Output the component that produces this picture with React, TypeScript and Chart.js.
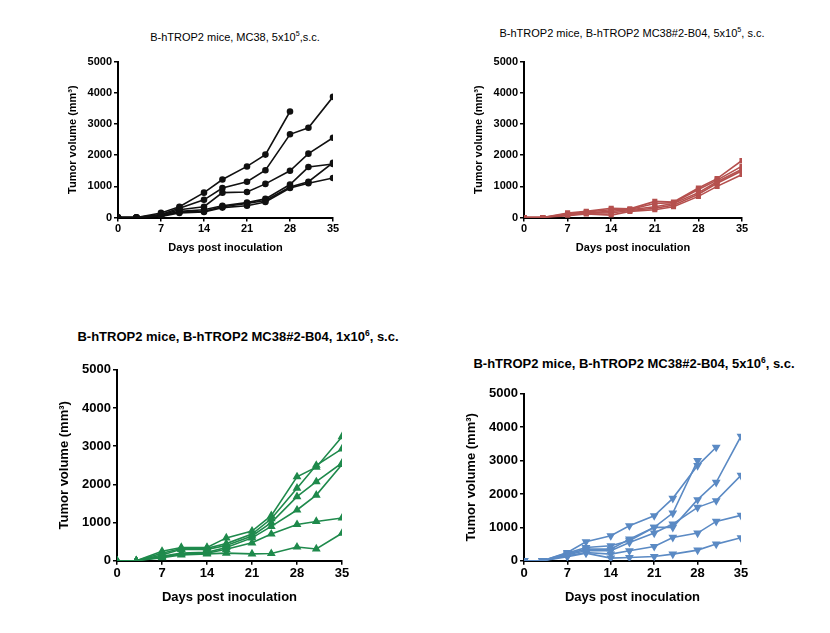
import React, { useEffect, useRef } from "react";
import { Chart, registerables } from "chart.js";
Chart.register(...registerables);

const days = [0, 3, 7, 10, 14, 17, 21, 24, 28, 31, 35];
const yTicks = [0, 1000, 2000, 3000, 4000, 5000];

const mc38_5e5: (number | null)[][] = [
  [0, 0, 150, 350, 800, 1220, 1640, 2020, 3400, null, null],
  [0, 0, 100, 300, 570, 950, 1150, 1520, 2670, 2880, 3870],
  [0, 0, 80, 250, 350, 800, 820, 1080, 1500, 2050, 2560],
  [0, 0, 60, 200, 250, 380, 480, 600, 1060, 1620, 1720],
  [0, 0, 50, 180, 200, 350, 450, 550, 980, 1150, 1760],
  [0, 0, 40, 150, 180, 320, 380, 500, 950, 1100, 1270],
];
const b04_5e5: (number | null)[][] = [
  [0, 0, 150, 200, 300, 280, 520, 500, 950, 1250, 1830],
  [0, 0, 120, 180, 250, 260, 450, 480, 900, 1200, 1650],
  [0, 0, 100, 150, 200, 250, 350, 450, 800, 1150, 1550],
  [0, 0, 80, 140, 150, 230, 300, 400, 750, 1100, 1500],
  [0, 0, 60, 120, 80, 200, 250, 350, 680, 1000, 1380],
];
const b04_1e6: (number | null)[][] = [
  [0, 0, 250, 350, 350, 600, 780, 1180, 2200, 2450, 3250],
  [0, 0, 200, 320, 330, 450, 700, 1100, 1900, 2500, 2930],
  [0, 0, 150, 300, 300, 400, 650, 1000, 1680, 2070, 2560],
  [0, 0, 120, 200, 220, 350, 600, 900, 1330, 1720, 2520],
  [0, 0, 100, 180, 200, 300, 470, 700, 950, 1030, 1120],
  [0, 0, 80, 150, 180, 200, 180, 190, 360, 310, 720],
];
const b04_5e6: (number | null)[][] = [
  [0, 0, 250, 570, 750, 1050, 1350, 1870, 2850, 3400, null],
  [0, 0, 230, 400, 450, 600, 1000, 1430, 3000, null, null],
  [0, 0, 200, 350, 350, 650, 1000, 1000, 1830, 2350, 3730],
  [0, 0, 180, 300, 300, 550, 830, 1100, 1600, 1800, 2560],
  [0, 0, 150, 250, 200, 300, 430, 700, 830, 1180, 1360],
  [0, 0, 120, 230, 80, 100, 130, 200, 320, 500, 690],
];

type P = {
  series: (number | null)[][];
  color: string;
  point: string;
  rot: number;
  left: number; top: number; right: number; bottom: number;
  font: number; yw: number; pr: number;
  title: React.ReactNode; tx: number; ty: number; tw: string;
};

function Panel(p: P) {
  const ref = useRef<HTMLCanvasElement>(null);
  const padT = 8, padR = 12, xh = p.font * 3.4;
  const w = p.yw + (p.right - p.left) + padR;
  const h = padT + (p.bottom - p.top) + xh;
  useEffect(() => {
    const font = { family: "Liberation Sans, Arial, sans-serif", size: p.font, weight: "bold" as const };
    const c = new Chart(ref.current!, {
      type: "line",
      data: {
        datasets: p.series.map((s) => ({
          data: days.map((d, i) => ({ x: d, y: s[i] })).filter((q) => q.y !== null) as any,
          borderColor: p.color,
          backgroundColor: p.color,
          borderWidth: 1.6,
          pointStyle: p.point as any,
          pointRotation: p.rot,
          pointRadius: p.pr,
          tension: 0,
        })),
      },
      options: {
        animation: false,
        responsive: false,
        layout: { padding: { top: padT, right: padR } },
        plugins: { legend: { display: false }, tooltip: { enabled: false } },
        scales: {
          x: {
            type: "linear", min: 0, max: 35,
            afterFit: (a: any) => { a.height = xh; },
            afterBuildTicks: (a: any) => { a.ticks = days.filter((d) => d % 7 === 0).map((v) => ({ value: v })); },
            ticks: { font, color: "#000", padding: 1, callback: (v: any) => String(v) },
            grid: { drawOnChartArea: false, color: "#000", tickLength: 4, lineWidth: 1.5 },
            border: { color: "#000", width: 2 },
            title: { display: true, text: "Days post inoculation", font, color: "#000", padding: 0 },
          },
          y: {
            min: 0, max: 5000,
            afterFit: (a: any) => { a.width = p.yw; },
            afterBuildTicks: (a: any) => { a.ticks = yTicks.map((v) => ({ value: v })); },
            ticks: { font, color: "#000", padding: 2, callback: (v: any) => String(v) },
            grid: { drawOnChartArea: false, color: "#000", tickLength: 4, lineWidth: 1.5 },
            border: { color: "#000", width: 2 },
            title: { display: true, text: "Tumor volume (mm³)", font, color: "#000", padding: 0 },
          },
        },
      },
    });
    return () => c.destroy();
  }, []);
  return (
    <>
      <div style={{ position: "absolute", left: p.tx, top: p.ty, transform: "translateX(-50%)", whiteSpace: "nowrap",
        fontFamily: "Liberation Sans, Arial, sans-serif", fontWeight: p.tw as any, fontSize: p.font, color: "#000" }}>{p.title}</div>
      <canvas ref={ref} width={w} height={h}
        style={{ position: "absolute", left: p.left - p.yw, top: p.top - padT, width: w, height: h }} />
    </>
  );
}

export default function App() {
  const sup = (s: string) => <sup style={{ fontSize: "0.65em" }}>{s}</sup>;
  return (
    <div style={{ position: "relative", width: 830, height: 633, background: "#fff", margin: -8 }}>
      <Panel series={mc38_5e5} color="#111" point="circle" rot={0} left={118} top={61} right={333} bottom={218}
        font={11} yw={52} pr={2.5} tx={235} ty={30} tw="normal" title={<>B-hTROP2 mice, MC38, 5x10{sup("5")},s.c.</>} />
      <Panel series={b04_5e5} color="#b5504e" point="rect" rot={0} left={524} top={61} right={742} bottom={218}
        font={11} yw={52} pr={2.5} tx={632} ty={26} tw="normal" title={<>B-hTROP2 mice, B-hTROP2 MC38#2-B04, 5x10{sup("5")}, s.c.</>} />
      <Panel series={b04_1e6} color="#1f8a4c" point="triangle" rot={0} left={117} top={368} right={342} bottom={561}
        font={13} yw={60} pr={3.5} tx={238} ty={328} tw="bold" title={<>B-hTROP2 mice, B-hTROP2 MC38#2-B04, 1x10{sup("6")}, s.c.</>} />
      <Panel series={b04_5e6} color="#5b8ac4" point="triangle" rot={180} left={524} top={392} right={741} bottom={561}
        font={13} yw={60} pr={3.5} tx={634} ty={355} tw="bold" title={<>B-hTROP2 mice, B-hTROP2 MC38#2-B04, 5x10{sup("6")}, s.c.</>} />
    </div>
  );
}
